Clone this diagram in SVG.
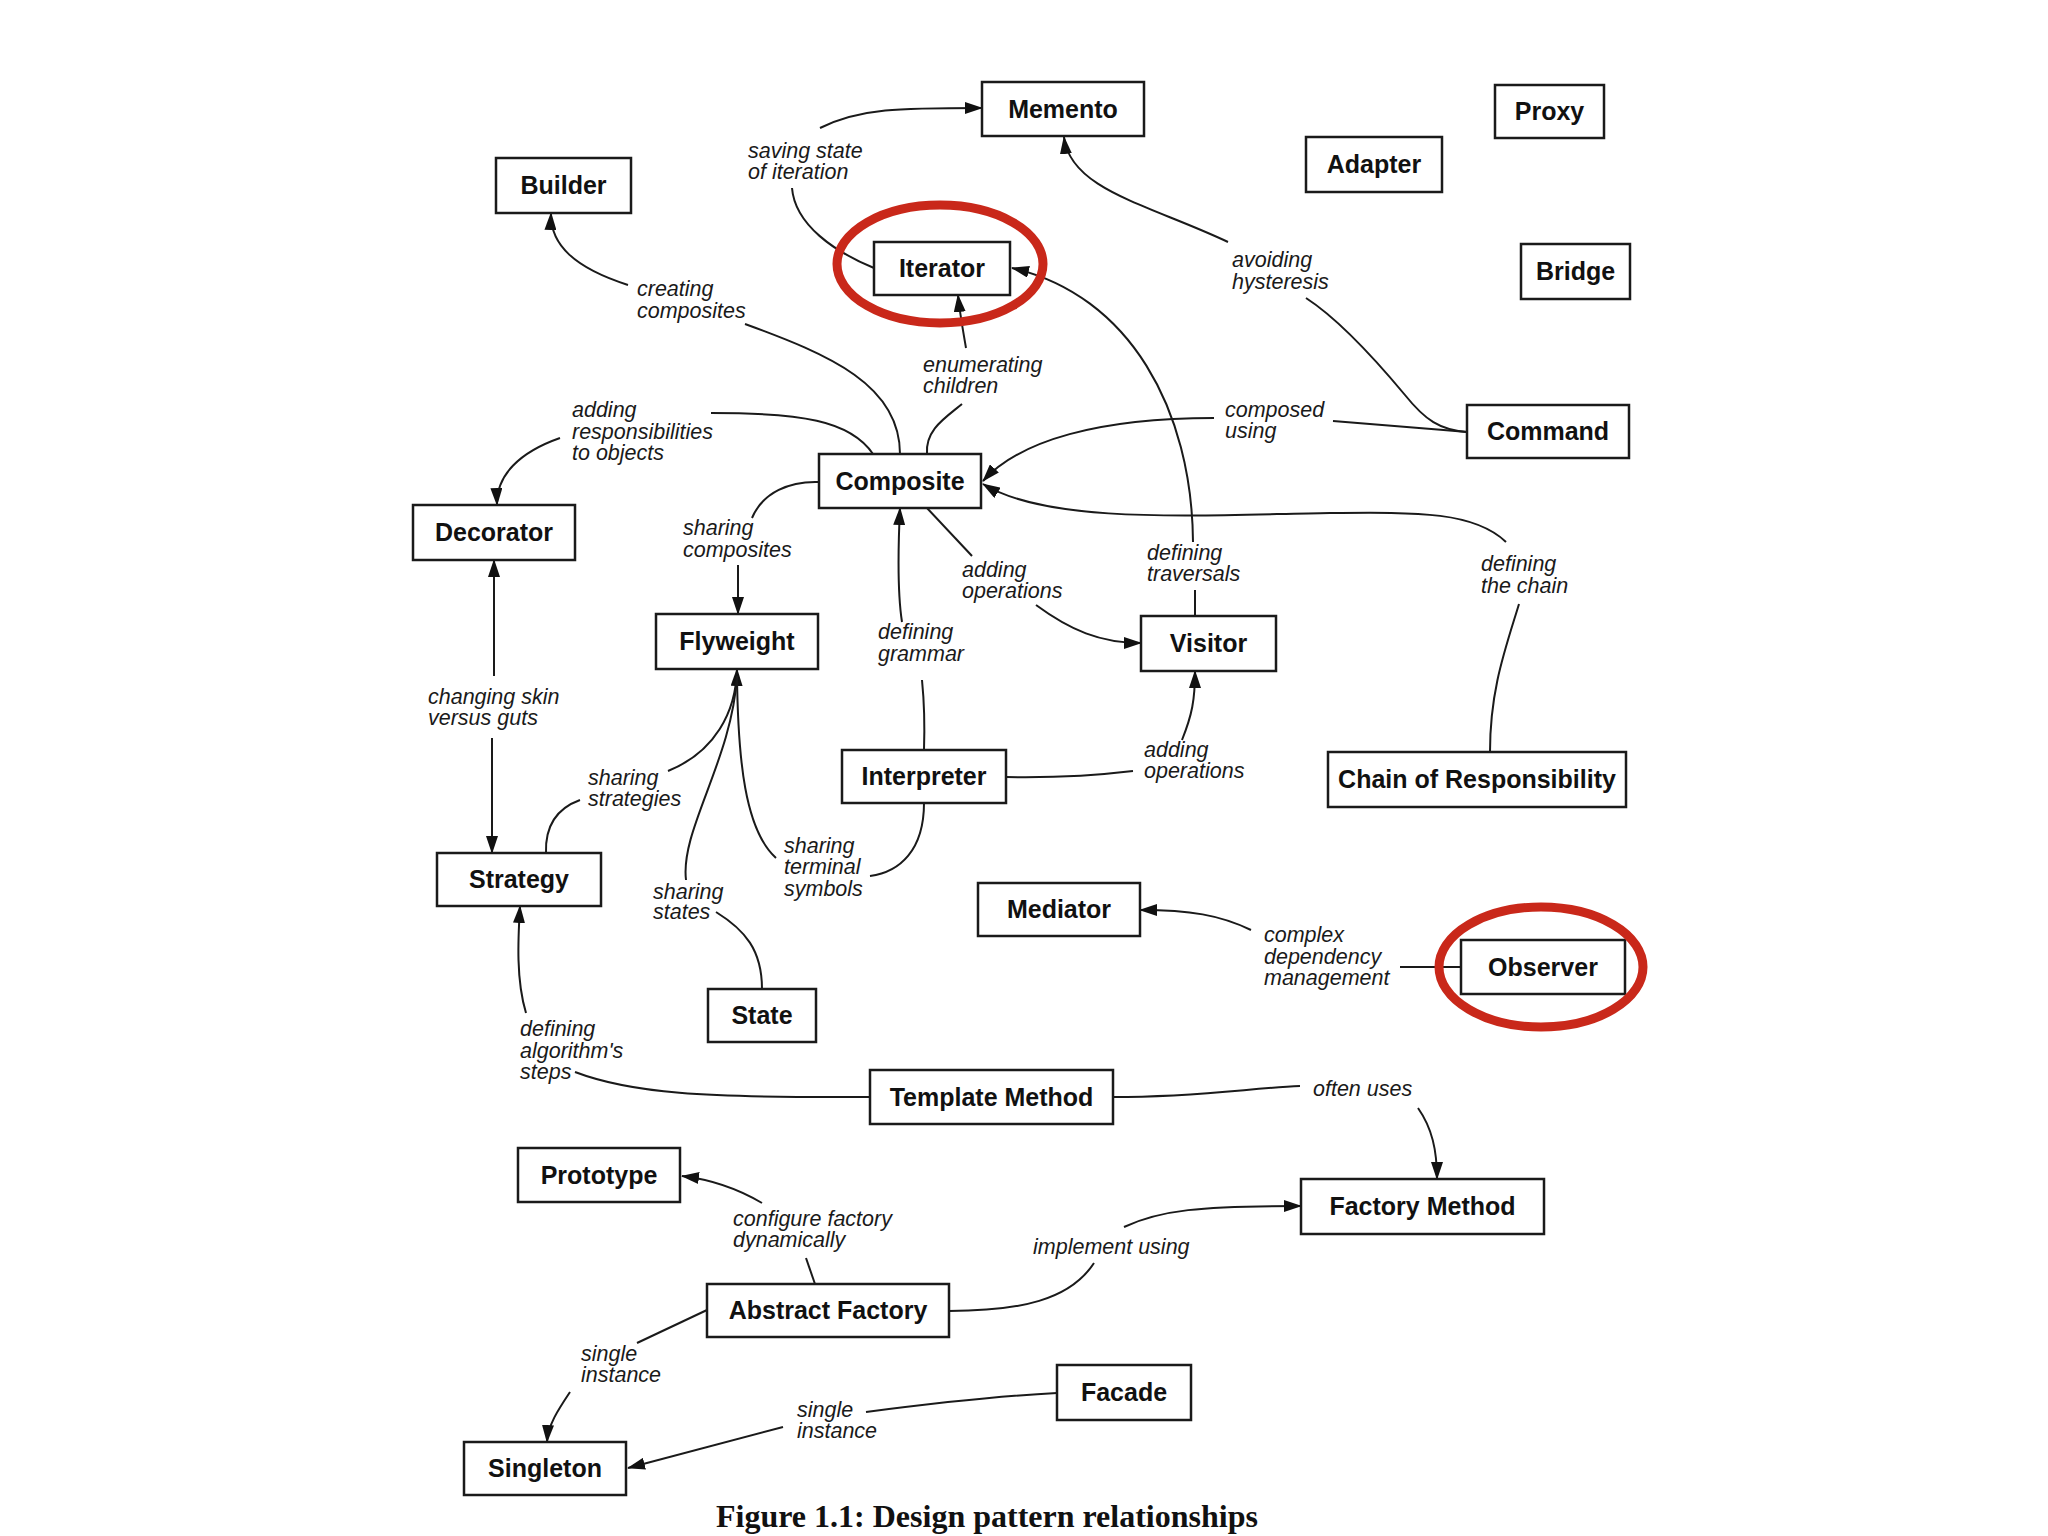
<svg xmlns="http://www.w3.org/2000/svg" width="2048" height="1536" viewBox="0 0 2048 1536">
<defs>
<style>
.box{fill:#fff;stroke:#1a1a1a;stroke-width:2.5}
.nt{font-family:"Liberation Sans",Arial,sans-serif;font-weight:bold;font-size:25px;fill:#111;text-anchor:middle}
.lb{font-family:"Liberation Sans",Arial,sans-serif;font-style:italic;font-size:21.5px;fill:#1a1a1a}
.c{fill:none;stroke:#1a1a1a;stroke-width:2}
.hl{fill:none;stroke:#c9281a;stroke-width:9}
.cap{font-family:"Liberation Serif","Times New Roman",serif;font-weight:bold;font-size:32px;fill:#111}
</style>
<marker id="ah" viewBox="0 0 18 12" refX="17" refY="6" markerWidth="18" markerHeight="12" markerUnits="userSpaceOnUse" orient="auto">
<path d="M0,0 L18,6 L0,12 z" fill="#111"/>
</marker>
</defs>
<rect width="2048" height="1536" fill="#fff"/>

<g id="connectors">
<path class="c" d="M874,268 C835,252 795,225 792,188"/>
<path class="c" d="M820,128 C860,108 900,108 982,108" marker-end="url(#ah)"/>
<path class="c" d="M628,285 C575,268 550,245 551,213" marker-end="url(#ah)"/>
<path class="c" d="M745,324 C830,355 900,385 900,454"/>
<path class="c" d="M927,454 C925,430 945,418 962,404"/>
<path class="c" d="M966,348 C963,330 960,315 958,295" marker-end="url(#ah)"/>
<path class="c" d="M873,454 C850,420 800,413 711,413"/>
<path class="c" d="M560,438 C520,452 496,475 497,505" marker-end="url(#ah)"/>
<path class="c" d="M1467,432 C1420,428 1370,424 1333,421"/>
<path class="c" d="M1214,418 C1100,418 1020,440 983,481" marker-end="url(#ah)"/>
<path class="c" d="M1490,752 C1490,690 1505,650 1519,604"/>
<path class="c" d="M1506,542 C1475,512 1420,512 1330,513 C1200,515 1050,525 983,484" marker-end="url(#ah)"/>
<path class="c" d="M1195,616 L1195,590"/>
<path class="c" d="M1193,542 C1192,410 1130,295 1012,268" marker-end="url(#ah)"/>
<path class="c" d="M927,508 L972,556"/>
<path class="c" d="M1036,605 C1070,630 1100,643 1141,643" marker-end="url(#ah)"/>
<path class="c" d="M819,482 C790,481 763,492 752,518"/>
<path class="c" d="M738,565 L738,614" marker-end="url(#ah)"/>
<path class="c" d="M924,750 C925,720 924,700 922,680"/>
<path class="c" d="M902,622 C897,590 898,550 900,508" marker-end="url(#ah)"/>
<path class="c" d="M494,676 L494,560" marker-end="url(#ah)"/>
<path class="c" d="M492,738 L492,853" marker-end="url(#ah)"/>
<path class="c" d="M546,853 C545,825 558,808 580,800"/>
<path class="c" d="M668,771 C715,752 736,712 737,669" marker-end="url(#ah)"/>
<path class="c" d="M762,989 C762,950 745,930 716,912"/>
<path class="c" d="M686,880 C680,830 732,760 737,676"/>
<path class="c" d="M924,803 C924,850 900,872 870,876"/>
<path class="c" d="M776,858 C745,830 738,760 737,676"/>
<path class="c" d="M1006,777 C1060,778 1100,775 1133,771"/>
<path class="c" d="M1182,740 C1192,715 1195,700 1195,671" marker-end="url(#ah)"/>
<path class="c" d="M1461,967 L1400,967"/>
<path class="c" d="M1251,930 C1220,915 1190,910 1140,910" marker-end="url(#ah)"/>
<path class="c" d="M870,1097 C700,1098 630,1093 575,1072"/>
<path class="c" d="M526,1013 C516,980 518,940 520,906" marker-end="url(#ah)"/>
<path class="c" d="M1113,1097 C1200,1097 1250,1088 1300,1086"/>
<path class="c" d="M1418,1108 C1432,1128 1437,1150 1437,1179" marker-end="url(#ah)"/>
<path class="c" d="M815,1284 L806,1258"/>
<path class="c" d="M762,1203 C740,1190 715,1180 682,1176" marker-end="url(#ah)"/>
<path class="c" d="M949,1311 C1020,1311 1070,1300 1094,1263"/>
<path class="c" d="M1124,1227 C1160,1210 1200,1206 1301,1206" marker-end="url(#ah)"/>
<path class="c" d="M707,1310 L637,1343"/>
<path class="c" d="M570,1392 C558,1410 548,1425 547,1442" marker-end="url(#ah)"/>
<path class="c" d="M1057,1393 C1000,1396 920,1405 866,1412"/>
<path class="c" d="M783,1427 L628,1468" marker-end="url(#ah)"/>
<path class="c" d="M1467,432 C1440,430 1425,420 1405,395 C1380,365 1340,320 1306,298"/>
<path class="c" d="M1228,242 C1150,205 1070,190 1064,137" marker-end="url(#ah)"/>
</g>

<g id="labels">
<text class="lb" x="748" y="158">saving state</text><text class="lb" x="748" y="179">of iteration</text>
<text class="lb" x="637" y="296">creating</text><text class="lb" x="637" y="318">composites</text>
<text class="lb" x="923" y="372">enumerating</text><text class="lb" x="923" y="393">children</text>
<text class="lb" x="1232" y="267">avoiding</text><text class="lb" x="1232" y="289">hysteresis</text>
<text class="lb" x="572" y="417">adding</text><text class="lb" x="572" y="439">responsibilities</text><text class="lb" x="572" y="460">to objects</text>
<text class="lb" x="1225" y="417">composed</text><text class="lb" x="1225" y="438">using</text>
<text class="lb" x="683" y="535">sharing</text><text class="lb" x="683" y="557">composites</text>
<text class="lb" x="962" y="577">adding</text><text class="lb" x="962" y="598">operations</text>
<text class="lb" x="1147" y="560">defining</text><text class="lb" x="1147" y="581">traversals</text>
<text class="lb" x="1481" y="571">defining</text><text class="lb" x="1481" y="593">the chain</text>
<text class="lb" x="878" y="639">defining</text><text class="lb" x="878" y="661">grammar</text>
<text class="lb" x="428" y="704">changing skin</text><text class="lb" x="428" y="725">versus guts</text>
<text class="lb" x="588" y="785">sharing</text><text class="lb" x="588" y="806">strategies</text>
<text class="lb" x="1144" y="757">adding</text><text class="lb" x="1144" y="778">operations</text>
<text class="lb" x="784" y="853">sharing</text><text class="lb" x="784" y="874">terminal</text><text class="lb" x="784" y="896">symbols</text>
<text class="lb" x="653" y="899">sharing</text><text class="lb" x="653" y="919">states</text>
<text class="lb" x="1264" y="942">complex</text><text class="lb" x="1264" y="964">dependency</text><text class="lb" x="1264" y="985">management</text>
<text class="lb" x="520" y="1036">defining</text><text class="lb" x="520" y="1058">algorithm's</text><text class="lb" x="520" y="1079">steps</text>
<text class="lb" x="1313" y="1096">often uses</text>
<text class="lb" x="733" y="1226">configure factory</text><text class="lb" x="733" y="1247">dynamically</text>
<text class="lb" x="1033" y="1254">implement using</text>
<text class="lb" x="581" y="1361">single</text><text class="lb" x="581" y="1382">instance</text>
<text class="lb" x="797" y="1417">single</text><text class="lb" x="797" y="1438">instance</text>
</g>

<g id="memento"><rect class="box" x="982" y="82" width="162" height="54"/><text class="nt" x="1063" y="118">Memento</text></g>
<g id="proxy"><rect class="box" x="1495" y="85" width="109" height="53"/><text class="nt" x="1549.5" y="120">Proxy</text></g>
<g id="builder"><rect class="box" x="496" y="158" width="135" height="55"/><text class="nt" x="563.5" y="194">Builder</text></g>
<g id="adapter"><rect class="box" x="1306" y="137" width="136" height="55"/><text class="nt" x="1374" y="173">Adapter</text></g>
<g id="iterator"><rect class="box" x="874" y="242" width="136" height="53"/><text class="nt" x="942" y="277">Iterator</text></g>
<g id="bridge"><rect class="box" x="1521" y="244" width="109" height="55"/><text class="nt" x="1575.5" y="280">Bridge</text></g>
<g id="command"><rect class="box" x="1467" y="405" width="162" height="53"/><text class="nt" x="1548" y="440">Command</text></g>
<g id="composite"><rect class="box" x="819" y="454" width="162" height="54"/><text class="nt" x="900" y="490">Composite</text></g>
<g id="decorator"><rect class="box" x="413" y="505" width="162" height="55"/><text class="nt" x="494" y="541">Decorator</text></g>
<g id="flyweight"><rect class="box" x="656" y="614" width="162" height="55"/><text class="nt" x="737" y="650">Flyweight</text></g>
<g id="visitor"><rect class="box" x="1141" y="616" width="135" height="55"/><text class="nt" x="1208.5" y="652">Visitor</text></g>
<g id="interpreter"><rect class="box" x="842" y="750" width="164" height="53"/><text class="nt" x="924" y="785">Interpreter</text></g>
<g id="chain"><rect class="box" x="1328" y="752" width="298" height="55"/><text class="nt" x="1477" y="788">Chain of Responsibility</text></g>
<g id="strategy"><rect class="box" x="437" y="853" width="164" height="53"/><text class="nt" x="519" y="888">Strategy</text></g>
<g id="mediator"><rect class="box" x="978" y="883" width="162" height="53"/><text class="nt" x="1059" y="918">Mediator</text></g>
<g id="observer"><rect class="box" x="1461" y="940" width="164" height="54"/><text class="nt" x="1543" y="976">Observer</text></g>
<g id="state"><rect class="box" x="708" y="989" width="108" height="53"/><text class="nt" x="762" y="1024">State</text></g>
<g id="template-method"><rect class="box" x="870" y="1070" width="243" height="54"/><text class="nt" x="991.5" y="1106">Template Method</text></g>
<g id="prototype"><rect class="box" x="518" y="1148" width="162" height="54"/><text class="nt" x="599" y="1184">Prototype</text></g>
<g id="factory-method"><rect class="box" x="1301" y="1179" width="243" height="55"/><text class="nt" x="1422.5" y="1215">Factory Method</text></g>
<g id="abstract-factory"><rect class="box" x="707" y="1284" width="242" height="53"/><text class="nt" x="828" y="1319">Abstract Factory</text></g>
<g id="facade"><rect class="box" x="1057" y="1365" width="134" height="55"/><text class="nt" x="1124" y="1401">Facade</text></g>
<g id="singleton"><rect class="box" x="464" y="1442" width="162" height="53"/><text class="nt" x="545" y="1477">Singleton</text></g>

<g id="highlights">
<ellipse class="hl" cx="940" cy="264" rx="103" ry="59"/>
<ellipse class="hl" cx="1541" cy="967" rx="102" ry="60"/>
</g>

<text class="cap" x="716" y="1527">Figure 1.1: Design pattern relationships</text>
</svg>
